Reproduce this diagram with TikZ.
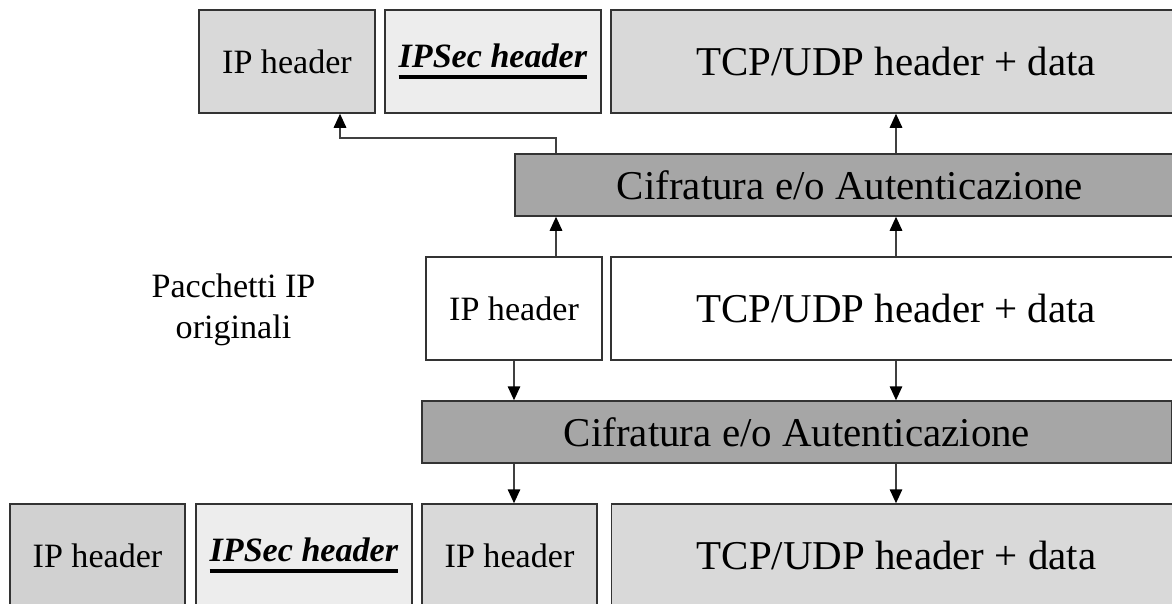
\documentclass[tikz,border=0pt]{standalone}
\usepackage{fontspec}
\setmainfont{Liberation Serif}
\usetikzlibrary{arrows.meta}
\newcommand{\thickul}[1]{\setbox0\hbox{#1}%
  \leavevmode\rlap{\rule[-6.1pt]{\wd0}{1.9pt}}\box0}

\begin{document}
\begin{tikzpicture}[
  field/.style={draw=black!80,line width=0.03cm,inner sep=0pt,
    minimum height=2.06cm,font=\fontsize{19.4}{23}\selectfont},
  wide/.style={field,font=\fontsize{23.3}{28}\selectfont},
  crypt/.style={wide,fill=black!35,minimum height=1.24cm},
  arr/.style={draw=black!75,line width=0.03cm,
    -{Triangle[length=0.28cm,width=0.25cm,color=black]}}]
  \useasboundingbox (0,0) rectangle (23.44,-12.06);
  \node[field,fill=black!15,minimum width=3.52cm]
    (topip) at (5.74,-1.23) {IP header};
  \node[field,fill=black!7,minimum width=4.32cm]
    (topsec) at (9.86,-1.23) {\thickul{\textbf{\textit{IPSec header}}}};
  \node[wide,fill=black!15,minimum width=11.4cm]
    (toptcp) at (17.92,-1.23) {TCP/UDP header + data};
  \node[crypt,minimum width=13.4cm] (cifa) at (17.0,-3.70)
    {Cifratura e/o Autenticazione};
  \node[field,fill=white,minimum width=3.52cm]
    (midip) at (10.28,-6.17) {IP header};
  \node[wide,fill=white,minimum width=11.4cm]
    (midtcp) at (17.92,-6.17) {TCP/UDP header + data};
  \node[align=center,font=\fontsize{19.4}{23.3}\selectfont]
    (orig) at (4.67,-6.19) {Pacchetti IP\\originali};
  \node[crypt,minimum width=15.0cm] (cifb) at (15.94,-8.64)
    {Cifratura e/o Autenticazione};
  \node[field,fill=black!18,minimum width=3.5cm]
    (outip) at (1.95,-11.11) {IP header};
  \node[field,fill=black!7,minimum width=4.32cm]
    (botsec) at (6.08,-11.11) {\thickul{\textbf{\textit{IPSec header}}}};
  \node[field,fill=black!15,minimum width=3.5cm]
    (botip) at (10.19,-11.11) {IP header};
  \node[wide,fill=black!15,minimum width=11.4cm]
    (bottcp) at (17.93,-11.11) {TCP/UDP header + data};

  \coordinate (tap) at (11.12,-2.76);
  \coordinate (bend) at (6.80,-2.76);
  \draw[arr] (cifa.north -| tap) -- (tap) -- (bend) -- (topip.south -| bend);
  \draw[arr] (midip.north -| tap) -- (cifa.south -| tap);
  \draw[arr] (midtcp.north) -- (cifa.south -| midtcp.north);
  \draw[arr] (cifa.north -| toptcp.south) -- (toptcp.south);
  \draw[arr] (midip.south) -- (cifb.north -| midip.south);
  \draw[arr] (cifb.south -| midip.south) -- (botip.north -| midip.south);
  \draw[arr] (midtcp.south) -- (cifb.north -| midtcp.south);
  \draw[arr] (cifb.south -| midtcp.south) -- (bottcp.north -| midtcp.south);
\end{tikzpicture}
\end{document}
